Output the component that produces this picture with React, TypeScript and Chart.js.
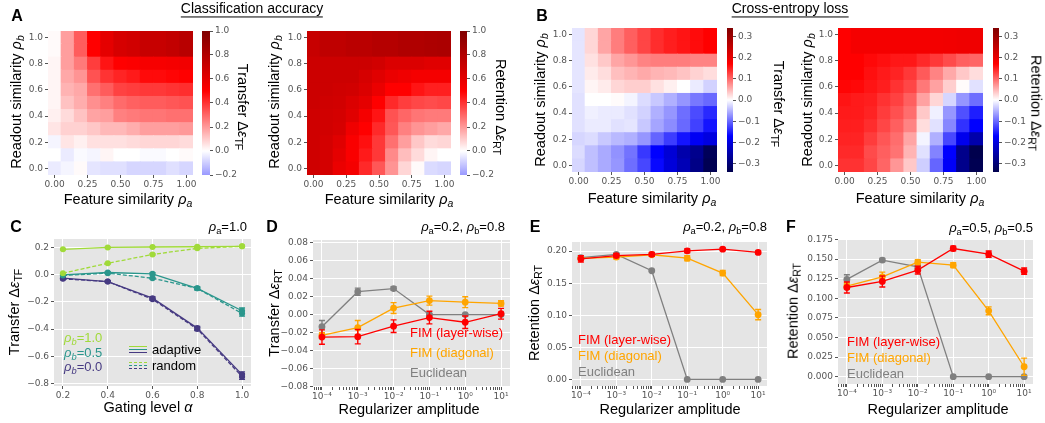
import React, { useEffect, useRef } from 'react';
import { Chart, registerables } from 'chart.js';

Chart.register(...registerables);

// ---------------- data ----------------
const RHO_A = [0, 0.1, 0.2, 0.3, 0.4, 0.5, 0.6, 0.7, 0.8, 0.9, 1.0];
const RHO_B = [0, 0.1, 0.2, 0.3, 0.4, 0.5, 0.6, 0.7, 0.8, 0.9, 1.0];

// rows: rho_b = 0.0 (first) ... 1.0 (last); columns: rho_a = 0.0 ... 1.0
const ACC_TRANSFER = [
  [-0.04, -0.02, 0.01, -0.05, -0.06, -0.06, -0.08, -0.08, -0.08, -0.06, -0.08],
  [0.0, -0.04, -0.01, -0.02, 0.02, 0.0, 0.0, -0.01, -0.01, 0.0, 0.01],
  [-0.02, 0.05, 0.03, 0.06, 0.06, 0.06, 0.07, 0.08, 0.08, 0.08, 0.07],
  [0.05, 0.09, 0.09, 0.11, 0.14, 0.14, 0.16, 0.19, 0.19, 0.19, 0.2],
  [0.03, 0.07, 0.12, 0.18, 0.19, 0.25, 0.26, 0.27, 0.27, 0.28, 0.28],
  [0.02, 0.12, 0.16, 0.22, 0.25, 0.29, 0.31, 0.32, 0.32, 0.33, 0.34],
  [0.02, 0.15, 0.17, 0.28, 0.32, 0.37, 0.38, 0.39, 0.39, 0.4, 0.41],
  [0.02, 0.17, 0.21, 0.34, 0.4, 0.43, 0.45, 0.48, 0.48, 0.49, 0.5],
  [0.02, 0.19, 0.26, 0.38, 0.46, 0.5, 0.51, 0.53, 0.53, 0.54, 0.55],
  [0.01, 0.19, 0.32, 0.5, 0.6, 0.66, 0.68, 0.72, 0.72, 0.74, 0.78],
  [0.01, 0.19, 0.32, 0.5, 0.6, 0.66, 0.68, 0.72, 0.72, 0.74, 0.78],
];
const ACC_RETENTION = [
  [0.69, 0.67, 0.58, 0.54, 0.42, 0.33, 0.21, 0.08, 0.01, -0.07, -0.08],
  [0.69, 0.67, 0.6, 0.52, 0.45, 0.39, 0.23, 0.13, 0.07, 0.02, 0.0],
  [0.69, 0.67, 0.62, 0.52, 0.47, 0.39, 0.28, 0.19, 0.11, 0.07, 0.08],
  [0.69, 0.68, 0.66, 0.56, 0.5, 0.42, 0.33, 0.25, 0.21, 0.19, 0.17],
  [0.69, 0.68, 0.67, 0.62, 0.54, 0.46, 0.34, 0.3, 0.27, 0.26, 0.26],
  [0.7, 0.69, 0.68, 0.64, 0.6, 0.5, 0.42, 0.38, 0.36, 0.35, 0.36],
  [0.7, 0.7, 0.69, 0.68, 0.64, 0.58, 0.5, 0.5, 0.46, 0.44, 0.44],
  [0.7, 0.7, 0.7, 0.7, 0.66, 0.62, 0.58, 0.56, 0.54, 0.54, 0.54],
  [0.7, 0.7, 0.7, 0.7, 0.7, 0.68, 0.64, 0.64, 0.64, 0.62, 0.62],
  [0.72, 0.75, 0.75, 0.77, 0.77, 0.79, 0.79, 0.81, 0.81, 0.82, 0.83],
  [0.72, 0.75, 0.75, 0.77, 0.77, 0.79, 0.79, 0.81, 0.81, 0.82, 0.83],
];
const CE_TRANSFER = [
  [-0.027, -0.043, -0.057, -0.07, -0.097, -0.123, -0.165, -0.205, -0.24, -0.285, -0.335],
  [-0.023, -0.043, -0.057, -0.073, -0.093, -0.133, -0.17, -0.209, -0.25, -0.279, -0.328],
  [-0.027, -0.023, -0.037, -0.047, -0.053, -0.07, -0.103, -0.13, -0.157, -0.18, -0.2],
  [-0.02, -0.013, -0.013, -0.02, -0.017, -0.037, -0.06, -0.077, -0.1, -0.127, -0.157],
  [-0.02, -0.01, -0.013, -0.013, -0.02, -0.03, -0.053, -0.07, -0.097, -0.12, -0.143],
  [-0.02, 0.0, 0.0, 0.003, -0.007, -0.023, -0.037, -0.053, -0.07, -0.09, -0.1],
  [-0.017, 0.007, 0.013, 0.027, 0.033, 0.033, 0.02, 0.01, 0.0, -0.013, -0.03],
  [-0.017, 0.013, 0.023, 0.043, 0.05, 0.057, 0.05, 0.047, 0.04, 0.03, 0.023],
  [-0.017, 0.02, 0.037, 0.06, 0.07, 0.083, 0.087, 0.087, 0.087, 0.083, 0.083],
  [-0.017, 0.027, 0.06, 0.087, 0.107, 0.124, 0.14, 0.15, 0.157, 0.163, 0.17],
  [-0.017, 0.027, 0.06, 0.087, 0.107, 0.124, 0.14, 0.15, 0.157, 0.163, 0.17],
];
const CE_RETENTION = [
  [0.137, 0.137, 0.123, 0.103, 0.07, 0.037, -0.033, -0.103, -0.177, -0.28, -0.335],
  [0.143, 0.143, 0.12, 0.107, 0.093, 0.05, -0.02, -0.083, -0.17, -0.28, -0.34],
  [0.147, 0.147, 0.13, 0.113, 0.097, 0.06, -0.007, -0.053, -0.123, -0.187, -0.25],
  [0.15, 0.15, 0.14, 0.123, 0.107, 0.083, 0.023, -0.02, -0.08, -0.137, -0.17],
  [0.153, 0.153, 0.147, 0.13, 0.117, 0.097, 0.037, -0.01, -0.07, -0.117, -0.15],
  [0.157, 0.153, 0.15, 0.137, 0.127, 0.107, 0.063, 0.027, -0.027, -0.07, -0.097],
  [0.167, 0.165, 0.157, 0.15, 0.137, 0.123, 0.09, 0.063, 0.033, 0.003, -0.02],
  [0.17, 0.17, 0.16, 0.153, 0.147, 0.133, 0.11, 0.083, 0.057, 0.037, 0.023],
  [0.17, 0.17, 0.165, 0.16, 0.155, 0.155, 0.143, 0.133, 0.12, 0.107, 0.103],
  [0.17, 0.184, 0.184, 0.184, 0.184, 0.184, 0.184, 0.186, 0.188, 0.19, 0.19],
  [0.17, 0.184, 0.184, 0.184, 0.184, 0.184, 0.184, 0.186, 0.188, 0.19, 0.19],
];

const HEAT_X_TICKS = [0, 0.25, 0.5, 0.75, 1.0];
const HEAT_Y_TICKS = [0, 0.2, 0.4, 0.6, 0.8, 1.0];
const ACC_CB_TICKS = [-0.2, 0, 0.2, 0.4, 0.6, 0.8, 1.0];
const CE_CB_TICKS = [-0.3, -0.2, -0.1, 0, 0.1, 0.2, 0.3];

// Panel C
const GATING = [0.2, 0.4, 0.6, 0.8, 1.0];
const C_RB10_ADAPT = [0.188, 0.202, 0.205, 0.207, 0.21];
const C_RB10_ADAPT_ERR = [0.004, 0.004, 0.003, 0.003, 0.003];
const C_RB10_RAND = [0.012, 0.085, 0.15, 0.195, 0.21];
const C_RB10_RAND_ERR = [0.004, 0.005, 0.005, 0.004, 0.003];
const C_RB05_ADAPT = [0.0, 0.017, 0.007, -0.1, -0.265];
const C_RB05_ADAPT_ERR = [0.005, 0.006, 0.008, 0.01, 0.02];
const C_RB05_RAND = [-0.005, 0.012, -0.025, -0.1, -0.285];
const C_RB05_RAND_ERR = [0.004, 0.005, 0.006, 0.01, 0.02];
const C_RB00_ADAPT = [-0.025, -0.05, -0.172, -0.393, -0.736];
const C_RB00_ADAPT_ERR = [0.005, 0.006, 0.01, 0.012, 0.02];
const C_RB00_RAND = [-0.03, -0.05, -0.18, -0.4, -0.75];
const C_RB00_RAND_ERR = [0.005, 0.006, 0.008, 0.012, 0.02];
const C_X_TICKS = [0.2, 0.4, 0.6, 0.8, 1.0];
const C_Y_TICKS = [-0.8, -0.6, -0.4, -0.2, 0, 0.2];

// Panels D-F
const REG_AMP = [1e-4, 1e-3, 1e-2, 1e-1, 1, 10];
const REG_TICKS = [1e-4, 1e-3, 1e-2, 1e-1, 1, 10];

const D_LAYER = [-0.025, -0.0245, -0.0128, -0.0033, -0.0085, 0.001];
const D_LAYER_ERR = [0.008, 0.008, 0.007, 0.007, 0.007, 0.006];
const D_DIAG = [-0.023, -0.0145, 0.0073, 0.0156, 0.0138, 0.0124];
const D_DIAG_ERR = [0.003, 0.008, 0.006, 0.005, 0.006, 0.003];
const D_EUC = [-0.0135, 0.0255, 0.029, 0.0, 0.0, 0.0];
const D_EUC_ERR = [0.007, 0.004, 0.002, 0.001, 0.001, 0.001];
const D_Y_TICKS = [-0.08, -0.06, -0.04, -0.02, 0, 0.02, 0.04, 0.06, 0.08];

const E_LAYER = [0.188, 0.193, 0.195, 0.2005, 0.203, 0.198];
const E_LAYER_ERR = [0.005, 0.003, 0.003, 0.003, 0.002, 0.002];
const E_DIAG = [0.1886, 0.1907, 0.1943, 0.189, 0.1658, 0.101];
const E_DIAG_ERR = [0.002, 0.003, 0.002, 0.004, 0.004, 0.008];
const E_EUC = [0.19, 0.1948, 0.1694, 0, 0, 0];
const E_EUC_ERR = [0.003, 0.002, 0.001, 0, 0, 0];
const E_Y_TICKS = [0, 0.05, 0.1, 0.15, 0.2];

const F_LAYER = [0.1137, 0.1214, 0.1358, 0.1634, 0.1562, 0.1345];
const F_LAYER_ERR = [0.007, 0.007, 0.005, 0.003, 0.004, 0.004];
const F_DIAG = [0.1154, 0.1273, 0.146, 0.1422, 0.084, 0.0127];
const F_DIAG_ERR = [0.004, 0.006, 0.003, 0.003, 0.005, 0.011];
const F_EUC = [0.124, 0.1486, 0.14, 0, 0, 0];
const F_EUC_ERR = [0.006, 0.002, 0.002, 0, 0, 0];
const F_Y_TICKS = [0, 0.025, 0.05, 0.075, 0.1, 0.125, 0.15, 0.175];

// ---------------- styles ----------------
const RED = '#ff0000';
const ORANGE = '#ffa500';
const GRAY = '#808080';
const GREEN = '#a0da39';
const TEAL = '#2a968c';
const PURPLE = '#463a82';
const PANEL_BG = '#e5e5e5';
const TICK_FONT = { family: 'DejaVu Sans', size: 9 };
const TICK_COLOR = '#555555';
const TICK_MARK = '#555555';
const LABEL_FONT = '"Liberation Sans", Arial, sans-serif';

type Rect = { left: number; top: number; width: number; height: number };
type Area = { L: number; T: number; R: number; B: number };
type Margin = { l: number; r: number; t: number; b: number };

function frameOf(a: Area, m: Margin): Rect {
  return { left: a.L - m.l, top: a.T - m.t, width: a.R - a.L + m.l + m.r, height: a.B - a.T + m.t + m.b };
}

const SEISMIC = [
  [0, 0, 0, 0.3],
  [0.25, 0, 0, 1],
  [0.5, 1, 1, 1],
  [0.75, 1, 0, 0],
  [1, 0.5, 0, 0],
];
function seismic(v: number, vmin: number, vmax: number): string {
  let n = (v - vmin) / (vmax - vmin);
  n = Math.max(0, Math.min(1, n));
  for (let i = 1; i < SEISMIC.length; i++) {
    if (n <= SEISMIC[i][0] + 1e-12) {
      const a = SEISMIC[i - 1];
      const b = SEISMIC[i];
      const t = (n - a[0]) / (b[0] - a[0]);
      const c = [1, 2, 3].map((k) => Math.round(255 * (a[k] + (b[k] - a[k]) * t)));
      return `rgb(${c[0]},${c[1]},${c[2]})`;
    }
  }
  return 'rgb(128,0,0)';
}

const fmt = (d: number) => (v: number) => {
  const s = Math.abs(v) < 1e-12 ? (0).toFixed(d) : Number(v).toFixed(d);
  return s.replace('-', '\u2212');
};
const SUP: Record<string, string> = {
  '-': '\u207B', '0': '\u2070', '1': '\u00B9', '2': '\u00B2', '3': '\u00B3',
  '4': '\u2074', '5': '\u2075', '6': '\u2076', '7': '\u2077', '8': '\u2078', '9': '\u2079',
};
const pow10Label = (v: number) => {
  const e = Math.log10(v);
  const r = Math.round(e);
  if (Math.abs(e - r) > 1e-6) return '';
  return '10' + String(r).split('').map((c) => SUP[c]).join('');
};
const setTicks = (vals: { value: number; major?: boolean }[]) => (s: any) => {
  s.ticks = vals.map((t) => ({ value: t.value, major: t.major !== false }));
};
const majors = (vals: number[]) => vals.map((v) => ({ value: v, major: true }));

function baseOptions(m: Margin, yW: number, rW: number, xH: number) {
  return {
    responsive: false,
    maintainAspectRatio: false,
    animation: false,
    devicePixelRatio: 1,
    events: [],
    layout: { padding: { left: m.l - yW, right: m.r - rW, top: m.t, bottom: m.b - xH } },
    plugins: { legend: { display: false }, tooltip: { enabled: false }, title: { display: false } },
  };
}

// ---------------- plugins ----------------
const panelBg = {
  id: 'panelBg',
  beforeDraw(chart: any) {
    const a = chart.chartArea;
    const c = chart.ctx;
    c.save();
    c.fillStyle = PANEL_BG;
    c.fillRect(a.left, a.top, a.right - a.left, a.bottom - a.top);
    c.restore();
  },
};
const errorBars = {
  id: 'errorBars',
  beforeDatasetDraw(chart: any, args: any) {
    const ds = chart.data.datasets[args.index];
    const err = ds.errors;
    if (!err) return;
    const ys = chart.scales.y;
    const c = chart.ctx;
    c.save();
    c.strokeStyle = ds.borderColor;
    c.lineWidth = 1.4;
    c.setLineDash([]);
    args.meta.data.forEach((pt: any, i: number) => {
      const e = err[i];
      if (!e) return;
      const v = ds.data[i].y;
      const y1 = ys.getPixelForValue(v - e);
      const y2 = ys.getPixelForValue(v + e);
      const x = pt.x;
      c.beginPath();
      c.moveTo(x, y1);
      c.lineTo(x, y2);
      c.moveTo(x - 3, y1);
      c.lineTo(x + 3, y1);
      c.moveTo(x - 3, y2);
      c.lineTo(x + 3, y2);
      c.stroke();
    });
    c.restore();
  },
};

// ---------------- heatmaps ----------------
const HM: Margin = { l: 36, r: 14, t: 8, b: 22 };
const HM_YW = 32;
const HM_XH = 18;

function heatConfig(grid: number[][], vmin: number, vmax: number) {
  return {
    type: 'bar',
    data: {
      datasets: RHO_B.map((b, i) => ({
        data: RHO_A.map((a) => ({ x: a, y: [b - 0.05, b + 0.05] })),
        backgroundColor: grid[i].map((v) => seismic(v, vmin, vmax)),
        borderWidth: 0,
        grouped: false,
        barPercentage: 1,
        categoryPercentage: 1,
        inflateAmount: 0.5,
      })),
    },
    options: {
      ...baseOptions(HM, HM_YW, 0, HM_XH),
      scales: {
        x: {
          type: 'linear', min: -0.05, max: 1.05, offset: false,
          afterBuildTicks: setTicks(majors(HEAT_X_TICKS)),
          afterFit: (s: any) => { s.height = HM_XH; },
          ticks: { font: TICK_FONT, color: TICK_COLOR, padding: 1, maxRotation: 0, autoSkip: false, callback: fmt(2) },
          grid: { offset: false, drawOnChartArea: false, tickLength: 3, tickColor: TICK_MARK },
          border: { display: false },
        },
        y: {
          type: 'linear', min: -0.05, max: 1.05,
          afterBuildTicks: setTicks(majors(HEAT_Y_TICKS)),
          afterFit: (s: any) => { s.width = HM_YW; },
          ticks: { font: TICK_FONT, color: TICK_COLOR, padding: 2, autoSkip: false, callback: fmt(1) },
          grid: { drawOnChartArea: false, tickLength: 3, tickColor: TICK_MARK },
          border: { display: false },
        },
      },
    },
  };
}

// ---------------- colorbars ----------------
const CB: Margin = { l: 2, r: 36, t: 8, b: 8 };
const CB_RW = 34;

function cbConfig(lo: number, hi: number, vmin: number, vmax: number, ticks: number[]) {
  return {
    type: 'bar',
    data: {
      labels: [''],
      datasets: [
        {
          data: [[lo, hi]],
          backgroundColor: (ctx: any) => {
            const chart = ctx.chart;
            const ys = chart.scales && chart.scales.y;
            if (!ys || !chart.chartArea) return '#ffffff';
            const g = chart.ctx.createLinearGradient(0, ys.getPixelForValue(lo), 0, ys.getPixelForValue(hi));
            const N = 60;
            for (let k = 0; k <= N; k++) {
              const v = lo + ((hi - lo) * k) / N;
              g.addColorStop(k / N, seismic(v, vmin, vmax));
            }
            return g;
          },
          borderWidth: 0,
          barPercentage: 1,
          categoryPercentage: 1,
        },
      ],
    },
    options: {
      ...baseOptions(CB, 0, CB_RW, 0),
      scales: {
        x: { display: false },
        y: {
          position: 'right', min: lo, max: hi,
          afterBuildTicks: setTicks(majors(ticks)),
          afterFit: (s: any) => { s.width = CB_RW; },
          ticks: { font: TICK_FONT, color: TICK_COLOR, padding: 2, autoSkip: false, callback: fmt(1) },
          grid: { drawOnChartArea: false, tickLength: 3, tickColor: TICK_MARK },
          border: { display: false },
        },
      },
    },
  };
}

// ---------------- line charts ----------------
const LM: Margin = { l: 44, r: 14, t: 8, b: 24 };
const LM_YW = 40;
const LM_XH = 20;

type Series = { xs: number[]; ys: number[]; err: number[]; color: string; dash?: number[]; r?: number };

function lineConfig(series: Series[], xo: any, yo: any) {
  return {
    type: 'line',
    data: {
      datasets: series.map((s) => ({
        data: s.xs.map((x, i) => ({ x, y: s.ys[i] })),
        errors: s.err,
        borderColor: s.color,
        backgroundColor: s.color,
        pointBackgroundColor: s.color,
        pointBorderColor: s.color,
        pointBorderWidth: 0,
        pointRadius: s.r ?? 3.4,
        borderWidth: 1.3,
        borderDash: s.dash ?? [],
        tension: 0,
        fill: false,
      })),
    },
    plugins: [panelBg, errorBars],
    options: {
      ...baseOptions(LM, LM_YW, 0, LM_XH),
      scales: {
        x: {
          type: xo.type, min: xo.min, max: xo.max, offset: false,
          afterBuildTicks: setTicks(xo.ticks),
          afterFit: (s: any) => { s.height = LM_XH; },
          ticks: { font: TICK_FONT, color: TICK_COLOR, padding: 1, maxRotation: 0, autoSkip: false, callback: xo.fmt },
          grid: {
            color: (c: any) => (c.tick && c.tick.major === false ? 'rgba(0,0,0,0)' : '#ffffff'),
            lineWidth: 1, tickLength: 3, tickColor: TICK_MARK,
          },
          border: { display: false },
        },
        y: {
          type: 'linear', min: yo.min, max: yo.max,
          afterBuildTicks: setTicks(majors(yo.ticks)),
          afterFit: (s: any) => { s.width = LM_YW; },
          ticks: { font: TICK_FONT, color: TICK_COLOR, padding: 2, autoSkip: false, callback: yo.fmt },
          grid: { color: '#ffffff', lineWidth: 1, tickLength: 3, tickColor: TICK_MARK },
          border: { display: false },
        },
      },
    },
  };
}

function logTicks() {
  const all: { value: number; major: boolean }[] = [];
  const lo = Math.pow(10, -4.25);
  const hi = Math.pow(10, 1.25);
  for (let e = -5; e <= 1; e++) {
    for (let k = 1; k <= 9; k++) {
      const v = k * Math.pow(10, e);
      if (v >= lo && v <= hi) all.push({ value: v, major: k === 1 && REG_TICKS.some((t) => Math.abs(Math.log10(t) - e) < 1e-9) });
    }
  }
  return all;
}
const LOG_X = { type: 'logarithmic', min: Math.pow(10, -4.25), max: Math.pow(10, 1.25), ticks: logTicks(), fmt: pow10Label };

function regSeries(layer: number[], le: number[], diag: number[], de: number[], euc: number[], ee: number[]): Series[] {
  return [
    { xs: REG_AMP, ys: layer, err: le, color: RED },
    { xs: REG_AMP, ys: diag, err: de, color: ORANGE },
    { xs: REG_AMP, ys: euc, err: ee, color: GRAY },
  ];
}

// ---------------- components ----------------
function ChartBox({ area, margin, make }: { area: Area; margin: Margin; make: () => any }) {
  const ref = useRef<HTMLCanvasElement>(null);
  const rect = frameOf(area, margin);
  useEffect(() => {
    const chart = new Chart(ref.current as HTMLCanvasElement, make());
    return () => chart.destroy();
  }, []);
  return (
    <canvas
      ref={ref}
      width={rect.width}
      height={rect.height}
      style={{ position: 'absolute', left: rect.left, top: rect.top, width: rect.width, height: rect.height }}
    />
  );
}

function Txt(props: {
  x: number; y: number; children: any; size?: number; color?: string; rotate?: number;
  align?: 'left' | 'center' | 'right'; bold?: boolean; family?: string; style?: any;
}) {
  const { x, y, children, size = 14, color = '#000', rotate = 0, align = 'center', bold = false, family = LABEL_FONT, style } = props;
  const tx = align === 'center' ? '-50%' : align === 'right' ? '-100%' : '0%';
  return (
    <div
      style={{
        position: 'absolute', left: x, top: y, transform: `translate(${tx}, -50%) rotate(${rotate}deg)`,
        whiteSpace: 'nowrap', fontSize: size, lineHeight: 1.15, color, fontFamily: family,
        fontWeight: bold ? 'bold' : 'normal', ...style,
      }}
    >
      {children}
    </div>
  );
}

const Sub = ({ children }: { children: any }) => (
  <span style={{ fontSize: '0.72em', position: 'relative', top: '0.32em' }}>{children}</span>
);
const RhoI = ({ s }: { s: string }) => (
  <>
    <i>ρ</i>
    <Sub><i>{s}</i></Sub>
  </>
);
const Rho = ({ s }: { s: string }) => (
  <>
    <i>ρ</i>
    <Sub>{s}</Sub>
  </>
);
const DEps = ({ s }: { s: string }) => (
  <>
    Δ<i>ε</i>
    <Sub>{s}</Sub>
  </>
);

const AREA_A1: Area = { L: 48, T: 31, R: 193, B: 175 };
const AREA_A2: Area = { L: 307, T: 31, R: 451, B: 175 };
const AREA_B1: Area = { L: 572, T: 28, R: 717, B: 172 };
const AREA_B2: Area = { L: 838, T: 28, R: 983, B: 172 };
const AREA_A1_CB: Area = { L: 202, T: 31, R: 210, B: 175 };
const AREA_A2_CB: Area = { L: 460, T: 31, R: 467, B: 175 };
const AREA_B1_CB: Area = { L: 727, T: 28, R: 733, B: 172 };
const AREA_B2_CB: Area = { L: 993, T: 28, R: 999, B: 172 };
const AREA_C: Area = { L: 54, T: 239, R: 251, B: 386 };
const AREA_D: Area = { L: 313, T: 240, R: 510, B: 387 };
const AREA_E: Area = { L: 572, T: 242, R: 767, B: 386 };
const AREA_F: Area = { L: 838, T: 239, R: 1033, B: 384 };

function LegendLine({ x, y, w, color, dashed }: { x: number; y: number; w: number; color: string; dashed?: boolean }) {
  return (
    <div style={{ position: 'absolute', left: x, top: y, width: w, height: 0, borderTop: `1.5px ${dashed ? 'dashed' : 'solid'} ${color}` }} />
  );
}

export default function App() {
  const regLegend = (x: number, y0: number, dy: number) => (
    <>
      <Txt x={x} y={y0} size={13} color={RED} align="left">FIM (layer-wise)</Txt>
      <Txt x={x} y={y0 + dy} size={13} color={ORANGE} align="left">FIM (diagonal)</Txt>
      <Txt x={x} y={y0 + 2 * dy} size={13} color={GRAY} align="left">Euclidean</Txt>
    </>
  );
  return (
    <div style={{ position: 'absolute', left: 0, top: 0, width: 1045, height: 423, background: '#fff', overflow: 'hidden', fontFamily: LABEL_FONT }}>
      <ChartBox area={AREA_A1} margin={HM} make={() => heatConfig(ACC_TRANSFER, -1, 1)} />
      <ChartBox area={AREA_A2} margin={HM} make={() => heatConfig(ACC_RETENTION, -1, 1)} />
      <ChartBox area={AREA_B1} margin={HM} make={() => heatConfig(CE_TRANSFER, -0.34, 0.34)} />
      <ChartBox area={AREA_B2} margin={HM} make={() => heatConfig(CE_RETENTION, -0.34, 0.34)} />
      <ChartBox area={AREA_A1_CB} margin={CB} make={() => cbConfig(-0.2, 1.0, -1, 1, ACC_CB_TICKS)} />
      <ChartBox area={AREA_A2_CB} margin={CB} make={() => cbConfig(-0.2, 1.0, -1, 1, ACC_CB_TICKS)} />
      <ChartBox area={AREA_B1_CB} margin={CB} make={() => cbConfig(-0.34, 0.34, -0.34, 0.34, CE_CB_TICKS)} />
      <ChartBox area={AREA_B2_CB} margin={CB} make={() => cbConfig(-0.34, 0.34, -0.34, 0.34, CE_CB_TICKS)} />

      <ChartBox
        area={AREA_C}
        margin={LM}
        make={() =>
          lineConfig(
            [
              { xs: GATING, ys: C_RB10_ADAPT, err: C_RB10_ADAPT_ERR, color: GREEN, r: 3 },
              { xs: GATING, ys: C_RB10_RAND, err: C_RB10_RAND_ERR, color: GREEN, dash: [4, 2], r: 3 },
              { xs: GATING, ys: C_RB05_ADAPT, err: C_RB05_ADAPT_ERR, color: TEAL, r: 3 },
              { xs: GATING, ys: C_RB05_RAND, err: C_RB05_RAND_ERR, color: TEAL, dash: [4, 2], r: 3 },
              { xs: GATING, ys: C_RB00_ADAPT, err: C_RB00_ADAPT_ERR, color: PURPLE, r: 3 },
              { xs: GATING, ys: C_RB00_RAND, err: C_RB00_RAND_ERR, color: PURPLE, dash: [4, 2], r: 3 },
            ],
            { type: 'linear', min: 0.16, max: 1.04, ticks: majors(C_X_TICKS), fmt: fmt(1) },
            { min: -0.82, max: 0.264, ticks: C_Y_TICKS, fmt: fmt(1) },
          )
        }
      />
      <ChartBox
        area={AREA_D}
        margin={LM}
        make={() =>
          lineConfig(regSeries(D_LAYER, D_LAYER_ERR, D_DIAG, D_DIAG_ERR, D_EUC, D_EUC_ERR), LOG_X, {
            min: -0.0805, max: 0.083, ticks: D_Y_TICKS, fmt: fmt(2),
          })
        }
      />
      <ChartBox
        area={AREA_E}
        margin={LM}
        make={() =>
          lineConfig(regSeries(E_LAYER, E_LAYER_ERR, E_DIAG, E_DIAG_ERR, E_EUC, E_EUC_ERR), LOG_X, {
            min: -0.0102, max: 0.2142, ticks: E_Y_TICKS, fmt: fmt(2),
          })
        }
      />
      <ChartBox
        area={AREA_F}
        margin={LM}
        make={() =>
          lineConfig(regSeries(F_LAYER, F_LAYER_ERR, F_DIAG, F_DIAG_ERR, F_EUC, F_EUC_ERR), LOG_X, {
            min: -0.0093, max: 0.1755, ticks: F_Y_TICKS, fmt: fmt(3),
          })
        }
      />

      {/* panel letters */}
      <Txt x={17} y={16} size={16} bold>A</Txt>
      <Txt x={542} y={16} size={16} bold>B</Txt>
      <Txt x={16} y={227} size={16} bold>C</Txt>
      <Txt x={272} y={227} size={16} bold>D</Txt>
      <Txt x={535} y={227} size={16} bold>E</Txt>
      <Txt x={791} y={227} size={16} bold>F</Txt>

      {/* titles */}
      <Txt x={252} y={9} size={14} style={{ borderBottom: '1px solid #000', paddingBottom: 0 }}>Classification accuracy</Txt>
      <Txt x={790} y={9} size={14} style={{ borderBottom: '1px solid #000', paddingBottom: 0 }}>Cross-entropy loss</Txt>

      {/* heatmap axis labels */}
      <Txt x={16} y={102} size={14.5} rotate={-90}>Readout similarity <RhoI s="b" /></Txt>
      <Txt x={128} y={199} size={14.5}>Feature similarity <RhoI s="a" /></Txt>
      <Txt x={243} y={107} size={14.5} rotate={90}>Transfer <DEps s="TF" /></Txt>

      <Txt x={274} y={102} size={14.5} rotate={-90}>Readout similarity <RhoI s="b" /></Txt>
      <Txt x={389} y={199} size={14.5}>Feature similarity <RhoI s="a" /></Txt>
      <Txt x={501} y={107} size={14.5} rotate={90}>Retention <DEps s="RT" /></Txt>

      <Txt x={540} y={100} size={14.5} rotate={-90}>Readout similarity <RhoI s="b" /></Txt>
      <Txt x={652} y={198} size={14.5}>Feature similarity <RhoI s="a" /></Txt>
      <Txt x={779} y={104} size={14.5} rotate={90}>Transfer <DEps s="TF" /></Txt>

      <Txt x={807} y={100} size={14.5} rotate={-90}>Readout similarity <RhoI s="b" /></Txt>
      <Txt x={920} y={198} size={14.5}>Feature similarity <RhoI s="a" /></Txt>
      <Txt x={1036} y={103} size={14.5} rotate={90}>Retention <DEps s="RT" /></Txt>

      {/* line chart axis labels */}
      <Txt x={14} y={312} size={14.5} rotate={-90}>Transfer <DEps s="TF" /></Txt>
      <Txt x={148} y={407} size={14.5}>Gating level <i>α</i></Txt>
      <Txt x={274} y={313} size={14.5} rotate={-90}>Transfer <DEps s="RT" /></Txt>
      <Txt x={409} y={409} size={14.5}>Regularizer amplitude</Txt>
      <Txt x={534} y={313} size={14.5} rotate={-90}>Retention <DEps s="RT" /></Txt>
      <Txt x={670} y={409} size={14.5}>Regularizer amplitude</Txt>
      <Txt x={793} y={311} size={14.5} rotate={-90}>Retention <DEps s="RT" /></Txt>
      <Txt x={938} y={409} size={14.5}>Regularizer amplitude</Txt>

      {/* annotations */}
      <Txt x={247} y={227} size={13} align="right"><Rho s="a" />=1.0</Txt>
      <Txt x={505} y={227} size={13} align="right"><Rho s="a" />=0.2, <Rho s="b" />=0.8</Txt>
      <Txt x={767} y={227} size={13} align="right"><Rho s="a" />=0.2, <Rho s="b" />=0.8</Txt>
      <Txt x={1033} y={228} size={13} align="right"><Rho s="a" />=0.5, <Rho s="b" />=0.5</Txt>

      {/* panel C legend */}
      <Txt x={64} y={338} size={13} color={GREEN} align="left"><RhoI s="b" />=1.0</Txt>
      <Txt x={64} y={353} size={13} color={TEAL} align="left"><RhoI s="b" />=0.5</Txt>
      <Txt x={64} y={367} size={13} color={PURPLE} align="left"><RhoI s="b" />=0.0</Txt>
      <LegendLine x={129} y={346} w={18} color={GREEN} />
      <LegendLine x={129} y={349} w={18} color={TEAL} />
      <LegendLine x={129} y={352} w={18} color={PURPLE} />
      <LegendLine x={129} y={362} w={18} color={GREEN} dashed />
      <LegendLine x={129} y={365} w={18} color={TEAL} dashed />
      <LegendLine x={129} y={368} w={18} color={PURPLE} dashed />
      <Txt x={152} y={350} size={13} align="left">adaptive</Txt>
      <Txt x={152} y={366} size={13} align="left">random</Txt>

      {/* panel D-F legends */}
      {regLegend(410, 333, 20)}
      {regLegend(578, 340, 16)}
      {regLegend(847, 342, 16)}
    </div>
  );
}
